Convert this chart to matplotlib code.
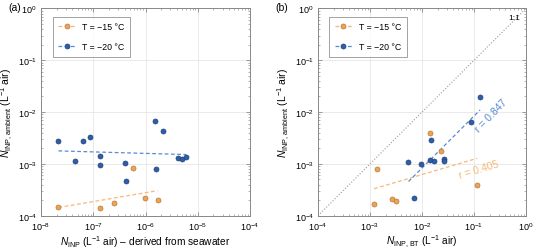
import numpy as np
import matplotlib
matplotlib.use('Agg')
import matplotlib.pyplot as plt

plt.rcParams['font.family'] = ['Liberation Sans', 'DejaVu Sans']
plt.rcParams['mathtext.fontset'] = 'custom'
plt.rcParams['mathtext.rm'] = 'Liberation Sans'
plt.rcParams['mathtext.it'] = 'Liberation Sans:italic'
plt.rcParams['mathtext.bf'] = 'Liberation Sans:bold'

# (a) seawater-derived vs ambient
a_x15 = [2.16e-8, 1.32e-7, 2.5e-7, 5.7e-7, 9.6e-7, 1.7e-6]
a_y15 = [1.49e-4, 1.39e-4, 1.73e-4, 8.4e-4, 2.2e-4, 1.98e-4]
a_x20 = [2.16e-8, 4.4e-8, 6.5e-8, 8.6e-8, 1.32e-7, 1.32e-7, 4.0e-7, 4.3e-7,
         1.56e-6, 1.54e-6, 2.2e-6, 4.2e-6, 5.1e-6, 6.0e-6]
a_y20 = [2.8e-3, 1.14e-3, 2.77e-3, 3.26e-3, 1.42e-3, 0.97e-3, 1.05e-3, 4.7e-4,
         7.9e-4, 6.6e-3, 4.3e-3, 1.32e-3, 1.23e-3, 1.34e-3]

# (b) BT vs ambient
b_x15 = [0.014, 0.0227, 1.35e-3, 0.115, 1.2e-3, 2.6e-3, 3.2e-3]
b_y15 = [3.9e-3, 1.8e-3, 8.0e-4, 3.9e-4, 1.66e-4, 2.13e-4, 1.9e-4]
b_x20 = [0.0146, 5.5e-3, 9.4e-3, 0.0142, 0.0171, 0.0267, 0.0267, 7.0e-3, 0.131, 0.089]
b_y20 = [2.9e-3, 1.09e-3, 1.0e-3, 1.17e-3, 1.15e-3, 1.26e-3, 1.15e-3, 2.2e-4, 0.0196, 6.5e-3]

labels = ['T = \u221215 \u00b0C', 'T = \u221220 \u00b0C']
r_text = ['r = 0.405', 'r = 0.847']

c_or, e_or, l_or = '#eca257', '#b97a35', '#f7b777'
c_bl, e_bl, l_bl = '#2f5ea6', '#1f4280', '#5a8ad0'


def fit(x, y):
    lx, ly = np.log10(x), np.log10(y)
    p = np.polyfit(lx, ly, 1)
    xx = np.array([lx.min(), lx.max()])
    return 10**xx, 10**np.polyval(p, xx)


def style(ax):
    ax.set_xscale('log')
    ax.set_yscale('log')
    ax.set_ylim(1e-4, 1)
    ax.grid(True, which='major', color='#e6e6e6', lw=0.6)
    ax.set_axisbelow(True)
    ax.tick_params(which='both', direction='in', top=True, right=True,
                   labelsize=6.5, color='#777777', pad=3)
    ax.tick_params(which='major', length=3, width=0.5)
    ax.tick_params(which='minor', length=1.5, width=0.4)
    for s in ax.spines.values():
        s.set_color('#888888')
        s.set_linewidth(0.7)
    ax.set_ylabel('$N_{\\mathrm{INP,\\,ambient}}$ (L$^{-1}$ air)', fontsize=7.5, labelpad=2)


fig = plt.figure(figsize=(5.34, 2.51), dpi=100)
ax1 = fig.add_axes([0.0768, 0.1367, 0.3914, 0.8255])
ax2 = fig.add_axes([0.5955, 0.1367, 0.3895, 0.8255])

mk = dict(marker='o', ms=3.6, mew=0.5, ls='none', zorder=3)

for ax, xs, ys in [(ax1, (a_x15, a_x20), (a_y15, a_y20)),
                   (ax2, (b_x15, b_x20), (b_y15, b_y20))]:
    style(ax)
    for x, y, c, e, l, lab in [(xs[0], ys[0], c_or, e_or, l_or, labels[0]),
                               (xs[1], ys[1], c_bl, e_bl, l_bl, labels[1])]:
        fx, fy = fit(x, y)
        ax.plot(fx, fy, ls=(0, (3, 2)), color=l, lw=0.9, zorder=2)
        ax.plot(x, y, mfc=c, mec=e, **mk)
        ax.plot([], [], ls=(0, (3, 2)), color=l, lw=0.9, marker='o', ms=3.6,
                mfc=c, mec=e, mew=0.5, label=lab)
    leg = ax.legend(loc='upper left', bbox_to_anchor=(0.055, 0.96), fontsize=6.3,
                    frameon=True, fancybox=False, edgecolor='#777777',
                    labelspacing=1.3, handlelength=2.0, borderpad=0.6, borderaxespad=0)
    leg.get_frame().set_linewidth(0.6)

ax1.set_xlim(1e-8, 1e-4)
ax1.set_xlabel('$N_{\\mathrm{INP}}$ (L$^{-1}$ air) \u2013 derived from seawater', fontsize=7.3, labelpad=1)

ax2.set_xlim(1e-4, 1)
ax2.plot([1e-4, 1], [1e-4, 1], ls=':', color='#999999', lw=0.8, zorder=1)
ax2.text(0.945, 0.955, '1:1', transform=ax2.transAxes, fontsize=6, ha='center', va='center')
ax2.set_xlabel('$N_{\\mathrm{INP,\\,BT}}$ (L$^{-1}$ air)', fontsize=7.3, labelpad=1)
ax2.text(0.125, 7.9e-4, r_text[0], color=l_or, fontsize=7.5, rotation=17, ha='center', va='center')
ax2.text(0.215, 0.0088, r_text[1], color=l_bl, fontsize=7.5, rotation=46, ha='center', va='center')

fig.text(0.015, 0.97, '(a)', fontsize=7.5, va='center')
fig.text(0.515, 0.97, '(b)', fontsize=7.5, va='center')

fig.savefig('out.png', dpi=100)
